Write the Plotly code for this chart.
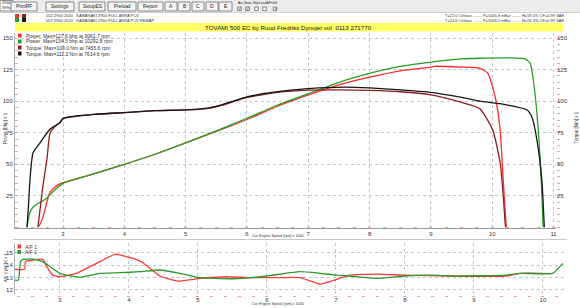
import plotly.graph_objects as go

W, H = 580, 308

# ---------------- data ----------------
pw_red_rpm = [2.59, 2.63, 2.67, 2.71, 2.74, 2.79, 2.87, 2.95, 3.0, 3.5, 4.0, 4.5, 5.0, 5.5, 6.0, 6.5, 7.0, 7.5, 8.0, 8.5, 9.0, 9.06, 9.5, 9.8, 9.93, 10.05, 10.13, 10.18, 10.22, 10.23]
pw_red_val = [0, 3, 8, 15, 21, 28, 32, 34.5, 35.5, 42.5, 50, 58, 67, 76, 85.5, 96, 105, 113, 119, 124, 127, 127.6, 127, 126, 122, 103, 77, 37, 6, 0]

pw_grn_rpm = [2.413, 2.44, 2.46, 2.51, 2.59, 2.67, 2.75, 2.84, 2.92, 3.0, 3.5, 4.0, 4.5, 5.0, 5.5, 6.0, 6.5, 7.0, 7.5, 8.0, 8.5, 9.0, 9.5, 9.8, 10.29, 10.54, 10.62, 10.67, 10.73, 10.78, 10.82, 10.83]
pw_grn_val = [0, 8, 12, 16, 19, 21, 24, 28.5, 32, 35, 42.5, 50, 58, 67, 76.5, 86.5, 97, 106, 115, 122, 127.5, 131, 133.5, 134, 134.3, 133.5, 130, 117, 90, 56, 15, 0]

tq_dred_rpm = [2.59, 2.62, 2.67, 2.74, 2.79, 2.89, 2.95, 3.0, 3.5, 4.0, 4.5, 4.9, 5.2, 5.4, 5.6, 5.8, 6.0, 6.5, 7.0, 7.46, 8.0, 8.5, 9.0, 9.5, 9.8, 10.01, 10.13, 10.18, 10.21, 10.22]
tq_dred_val = [0, 12, 32, 55, 75, 81, 83, 86, 89.5, 91, 92.5, 93, 93.6, 94.6, 96.8, 100, 103, 107, 108.7, 109.0, 108.5, 107.5, 105, 99, 94, 77, 51, 25, 4, 0]

tq_blk_rpm = [2.413, 2.44, 2.46, 2.51, 2.625, 2.79, 2.95, 3.0, 3.5, 4.0, 4.5, 4.9, 5.2, 5.4, 5.6, 5.8, 6.0, 6.5, 7.0, 7.61, 8.0, 8.5, 9.0, 9.5, 9.8, 10.13, 10.57, 10.65, 10.73, 10.81, 10.84, 10.85]
tq_blk_val = [0, 20, 37, 59, 67, 78, 83, 86.5, 89.5, 91, 92.5, 93, 93.8, 95, 97.3, 100.5, 103.5, 107.5, 110, 111.2, 110.5, 109, 107, 103, 100, 98, 93, 87, 69, 37, 10, 0]

afr_red_rpm = [2.348, 2.49, 2.50, 2.61, 2.754, 2.81, 2.90, 3.0, 3.24, 3.53, 3.80, 3.91, 4.18, 4.45, 4.71, 5.03, 5.42, 5.75, 6.19, 6.48, 6.77, 7.01, 7.20, 7.59, 8.0, 8.70, 9.47, 9.67, 10.0]
afr_red_val = [13.67, 13.67, 14.3, 14.43, 14.48, 13.9, 13.2, 13.07, 13.35, 14.16, 14.9, 14.78, 14.3, 13.13, 12.72, 12.94, 13.07, 13.0, 13.0, 13.0, 12.48, 12.86, 13.2, 13.29, 13.2, 13.13, 13.13, 13.35, 13.35]

afr_grn_rpm = [2.348, 2.40, 2.43, 2.47, 2.61, 2.75, 3.0, 3.29, 3.58, 3.87, 4.16, 4.45, 4.74, 5.0, 5.51, 6.0, 6.48, 6.77, 7.01, 7.20, 7.59, 8.0, 8.36, 8.70, 9.47, 9.67, 10.14, 10.29]
afr_grn_val = [12.8, 12.8, 14.3, 14.49, 14.5, 14.3, 13.35, 13.02, 13.35, 13.4, 13.48, 13.62, 13.35, 13.02, 12.91, 13.13, 13.48, 13.35, 13.2, 13.13, 12.94, 13.13, 13.2, 13.13, 13.2, 13.35, 13.35, 14.16]

main_names = ["Power: Max=127.6 bhp at 9061.7 rpm", "Power: Max=134.3 bhp at 10292.8 rpm",
              "Torque: Max=109.0 Nm at 7455.6 rpm", "Torque: Max=111.2 Nm at 7614.6 rpm"]
afr_names = ["A/F 1", "A/F 1"]
main_colors = ["#ff2a2a", "#23a023", "#8c1c1c", "#151515"]
afr_colors = ["#ff3a3a", "#2a982a"]

main_xticks = [3, 4, 5, 6, 7, 8, 9, 10, 11]
afr_xticks = [3, 4, 5, 6, 7, 8, 9, 10]
main_yticks = [25, 50, 75, 100, 125, 150]
afr_yticks = [12, 13, 14, 15]

title_text = "TOVAMI 500 EC by Ruud Fredriks Dynojet vof  0113 271770"
file_lines = ["002 Z900 2020   KAWASAKI Z900 FULL AKRA PCV", "007 Z900 2020   KAWASAKI Z900 FULL AKRA PCV REMAP"]
cond_lines = ["T=22.0 Celsius ........ P=1005.8 mBar ........ H=59.0% CF=0.99 SAE",
              "T=24.6 Celsius ........ P=1006.0 mBar ........ H=53.3% CF=0.99 SAE"]
buttons = ["PrintRF", "Settings", "SetupES", "Preload", "Report", "A", "B", "C", "D", "E"]
checks = ["Acc", "Static", "Slip", "Loss", "A/F", "shift"]
checked = [True, True, False, False, True]

# ---------------- helpers ----------------
def X(p): return p / W
def Y(p): return 1 - p / H

FONT = "Liberation Sans"
fig = go.Figure()
lw = 1.3
series = [(pw_red_rpm, pw_red_val, "y"), (pw_grn_rpm, pw_grn_val, "y"),
          (tq_dred_rpm, tq_dred_val, "y2"), (tq_blk_rpm, tq_blk_val, "y2")]
for (xs, ys, ya), c, n in zip(series, main_colors, main_names):
    fig.add_trace(go.Scatter(x=xs, y=ys, mode="lines", name=n, xaxis="x", yaxis=ya,
                             line=dict(color=c, width=lw, shape="spline", smoothing=0.5),
                             hoverinfo="skip"))
for (xs, ys), c, n in zip([(afr_red_rpm, afr_red_val), (afr_grn_rpm, afr_grn_val)], afr_colors, afr_names):
    fig.add_trace(go.Scatter(x=xs, y=ys, mode="lines", name=n, xaxis="x2", yaxis="y3",
                             line=dict(color=c, width=lw, shape="spline", smoothing=0.4),
                             hoverinfo="skip"))

grid = dict(showgrid=True, gridcolor="#c4c4c4", griddash="dot", gridwidth=1, zeroline=False)
tf = dict(family=FONT, size=6, color="#333")
pink = "#f2a0a0"

shapes = []
ann = []

def text(x, y, t, size, anchor="center", color="#333", family=FONT, angle=0):
    ann.append(dict(x=X(x), y=Y(y), xref="paper", yref="paper", text=t, showarrow=False,
                    xanchor=anchor, yanchor="middle", textangle=angle,
                    font=dict(family=family, size=size, color=color)))

def rect(x0, x1, y0, y1, fill, line=None):
    shapes.append(dict(type="rect", xref="paper", yref="paper", x0=X(x0), x1=X(x1), y0=Y(y1), y1=Y(y0),
                       fillcolor=fill, line=line or dict(width=0)))

# toolbar
rect(0, W, 0, 12.5, "#ececec")
shapes.append(dict(type="line", xref="paper", yref="paper", x0=0, x1=1, y0=Y(12.5), y1=Y(12.5),
                   line=dict(color="#d0d0d0", width=1)))
rect(0, 13, 0.5, 11, "#f8f8f8", dict(color="#909090", width=1))
text(6.5, 3.5, "Z900", 3.8)
text(6.5, 8, "S99s", 3.8)
bx = [(11, 37), (46, 74), (79, 105), (108, 136), (138, 163), (165, 177), (178, 190), (192, 204), (206, 218), (219, 232)]
for (a, b), t in zip(bx, buttons):
    rect(a, b, 2, 11, "#f3f3f3", dict(color="#8a8a8a", width=1))
    text((a + b) / 2, 6.5, t, 4.8, color="#222")
lx = [240.5, 248.5, 256, 262, 268.5, 274]
for c, t in zip(lx, checks):
    text(c, 3, t, 3.3, color="#222")
bxs = [239.5, 247.5, 256.5, 264.5, 275]
for c, k in zip(bxs, checked):
    rect(c - 1.8, c + 1.8, 7, 10.5, "white", dict(color="#666", width=0.8))
    if k:
        text(c, 8.7, "✓", 4, color="#000", family="DejaVu Sans")

# file legend squares
rect(15, 19, 14, 18, main_colors[0])
rect(15, 19, 18, 22, main_colors[1])
rect(22, 26, 14, 18, main_colors[2])
rect(22, 26, 18, 22, main_colors[3])
for i, t in enumerate(file_lines):
    text(44, 15.8 + 4.3 * i, t, 4.0, anchor="left")
for i, t in enumerate(cond_lines):
    text(443, 15.8 + 4.3 * i, t, 4.0, anchor="left")

# yellow title bar
rect(15, 563, 23, 31.5, "#ffff66")
text(288, 27.3, title_text, 6.2, color="#111")

# main legend
for i, (t, c) in enumerate(zip(main_names, main_colors)):
    yc = 35.5 + 6 * i
    rect(18, 21.5, yc - 2, yc + 2, c)
    text(23.5, yc, t, 5.0, anchor="left")

# AFR panel separator and legend
shapes.append(dict(type="line", xref="paper", yref="paper", x0=X(13), x1=X(567), y0=Y(239.5), y1=Y(239.5),
                   line=dict(color="#c8c8c8", width=1)))
for i, (t, c) in enumerate(zip(afr_names, afr_colors)):
    yc = 246.5 + 5.5 * i
    rect(17.5, 21, yc - 2, yc + 2, c)
    text(23, yc, t, 5.0, anchor="left")

# axis titles
text(278, 236, "Cor Engine Speed [rpm] x 1000", 3.7)
text(278, 304, "Cor Engine Speed [rpm] x 1000", 3.7)
text(5, 128, "Power [bhp] x 1", 4.5, angle=-90)
text(575.5, 128, "Torque [Nm] x 1", 4.5, angle=-90)
text(5, 268, "A/F 1 [AFR] x 1", 4.2, angle=-90)

fig.update_layout(
    width=W, height=H, margin=dict(l=0, r=0, t=0, b=0),
    paper_bgcolor="white", plot_bgcolor="white", showlegend=False,
    xaxis=dict(domain=[X(15), X(556)], range=[2.217, 11.04], tickvals=main_xticks, anchor="y",
               showline=True, linecolor="#9a9a9a", linewidth=1, ticks="", tickfont=tf,
               minor=dict(dtick=0.25, tick0=0, ticks="inside", ticklen=1, tickwidth=3, tickcolor=pink, showgrid=False),
               **grid),
    yaxis=dict(domain=[Y(227.5), Y(33)], range=[0, 154], tickvals=main_yticks, anchor="x",
               showline=True, linecolor="#b0b0b0", linewidth=1, ticks="", tickfont=tf,
               minor=dict(dtick=5, tick0=0, ticks="inside", ticklen=3, tickwidth=1, tickcolor=pink, showgrid=False),
               **grid),
    yaxis2=dict(overlaying="y", side="right", range=[0, 154], tickvals=main_yticks, anchor="x",
                showgrid=False, zeroline=False, showline=False, ticks="", tickfont=tf,
                minor=dict(dtick=5, tick0=0, ticks="outside", ticklen=3, tickwidth=1, tickcolor=pink, showgrid=False)),
    xaxis2=dict(domain=[X(15), X(565)], range=[2.35, 10.32], tickvals=afr_xticks, anchor="y3",
                showline=False, ticks="", tickfont=tf,
                minor=dict(dtick=0.2, tick0=0, ticks="outside", ticklen=1, tickwidth=3, tickcolor=pink, showgrid=False),
                **grid),
    yaxis3=dict(domain=[Y(295), Y(243)], range=[11.59, 15.81], tickvals=afr_yticks, anchor="x2",
                showline=True, linecolor="#b0b0b0", linewidth=1, ticks="", tickfont=tf, **grid),
    shapes=shapes, annotations=ann,
)

fig.write_html("out.html")
